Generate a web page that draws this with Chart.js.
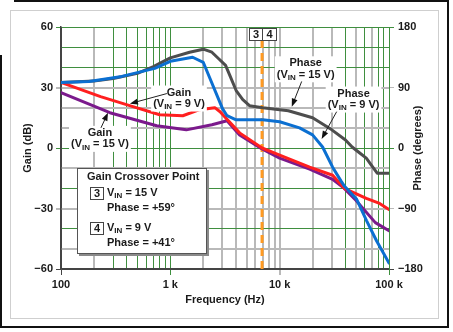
<!DOCTYPE html>
<html>
<head>
<meta charset="utf-8">
<script src="https://cdn.jsdelivr.net/npm/chart.js@4.4.1/dist/chart.umd.min.js"></script>
<style>
  html, body { margin: 0; padding: 0; background: #fff; }
  #bode { display: block; }
</style>
</head>
<body>
<canvas id="bode" width="453" height="332"></canvas>
<script>
// gain curves, dB (left axis)
const gain9Freq  = [100, 230, 455, 800, 1300, 1850, 2550, 2850, 4300, 6900, 10000, 18800, 30500, 39000, 62000, 82000, 100000];
const gain9Db    = [32.5, 25.5, 20.5, 16.5, 16, 19, 20, 18, 7.5, 0, -3.5, -9.5, -13.5, -20, -25, -27.5, -30.5];
const gain15Freq = [100, 280, 750, 1400, 2400, 3300, 4300, 6900, 10000, 18800, 30500, 39000, 50000, 75000, 100000];
const gain15Db   = [27.5, 17.5, 11, 9, 11.5, 13.5, 6.5, -0.5, -5, -10.5, -15.5, -20, -26, -37, -41];

// phase curves, degrees (right axis)
const phase9Freq  = [100, 180, 360, 720, 1000, 1600, 2000, 3000, 3300, 4000, 7000, 10000, 15200, 20000, 24700, 30500, 36700, 39200, 50500, 62300, 76900, 100000];
const phase9Deg   = [97.5, 99, 106.5, 118.5, 129, 135, 127.5, 58.5, 48, 42, 42, 39, 30, 19.5, 1.5, -28.5, -50, -57, -76, -108, -138, -171];
const phase15Freq = [100, 200, 300, 500, 700, 1000, 1500, 2000, 2400, 2800, 3200, 3500, 4000, 4600, 5300, 7000, 12000, 20000, 30000, 40000, 46000, 54000, 62000, 70000, 78000, 100000];
const phase15Deg  = [97.5, 99.5, 103.5, 111, 121, 134, 142.5, 147, 142.5, 132, 123, 108, 85.5, 72, 63, 60, 55.5, 45, 27, 12, 1.5, -7.5, -15, -27, -37.5, -37.5];

// gain crossover marker
const crossFreq = [6900, 6900];
const crossDb   = [-60, 54];

// axis ticks
const xTickValues = [100, 1000, 10000, 100000];
const xTickLabels = ['100', '1 k', '10 k', '100 k'];
const gainTicks   = [60, 30, 0, -30, -60];
const phaseTicks  = [180, 90, 0, -90, -180];

const FONT = '"Liberation Sans", Arial, sans-serif';
const GREEN = '#3f8f3f';
const GRAY = '#b9b9b9';
const DARK = '#444';

const pts = (xs, ys) => xs.map((x, i) => ({ x: x, y: ys[i] }));
const minus = v => v < 0 ? '\u2212' + Math.abs(v) : String(v);
const font = (px) => 'bold ' + px + 'px ' + FONT;

// every 1..9 x decade, for the log grid
const xGrid = [];
for (let d = 100; d < 100000; d *= 10) for (let m = 1; m < 10; m++) xGrid.push(d * m);
xGrid.push(100000);
const xGreen = [300, 400, 500, 600, 700, 800, 900, 1000, 40000, 60000, 80000, 90000, 100000];
const yGreen = [60, 50, 40, 0, -20, -40];

function xLineColor(v) {
    if (v === 100) return DARK;
    return xGreen.includes(v) ? GREEN : GRAY;
}
function yLineColor(v) {
    if (v === -60) return DARK;
    return yGreen.includes(v) ? GREEN : GRAY;
}

// text with a V_IN style subscript
function drawRich(ctx, parts, x, y, align) {
    let w = 0;
    parts.forEach(p => { ctx.font = font(p[1] ? 8 : 11); w += ctx.measureText(p[0]).width; });
    let cx = align === 'center' ? x - w / 2 : x;
    ctx.textAlign = 'left';
    ctx.textBaseline = 'middle';
    parts.forEach(p => {
        ctx.font = font(p[1] ? 8 : 11);
        ctx.fillText(p[0], cx, y + (p[1] ? 3 : 0));
        cx += ctx.measureText(p[0]).width;
    });
    return w;
}

function arrow(ctx, x1, y1, x2, y2) {
    const a = Math.atan2(y2 - y1, x2 - x1);
    ctx.strokeStyle = '#222';
    ctx.lineWidth = 1;
    ctx.beginPath();
    ctx.moveTo(x1, y1);
    ctx.lineTo(x2 - 5 * Math.cos(a), y2 - 5 * Math.sin(a));
    ctx.stroke();
    ctx.fillStyle = '#111';
    ctx.beginPath();
    ctx.moveTo(x2, y2);
    ctx.lineTo(x2 - 8 * Math.cos(a) + 3 * Math.sin(a), y2 - 8 * Math.sin(a) - 3 * Math.cos(a));
    ctx.lineTo(x2 - 8 * Math.cos(a) - 3 * Math.sin(a), y2 - 8 * Math.sin(a) + 3 * Math.cos(a));
    ctx.closePath();
    ctx.fill();
}

// label block: [freq, dB] centre, two lines, and arrow [freq,dB]->[freq,dB]
const labels = [
    { at: [1200, 27.5], l1: 'Gain',  l2: [['(V', 0], ['IN', 1], [' = 9 V)', 0]],  from: [930, 27], to: [427, 22] },
    { at: [227, 7.5],   l1: 'Gain',  l2: [['(V', 0], ['IN', 1], [' = 15 V)', 0]], from: [232, 10], to: [269, 17.5] },
    { at: [17300, 42],  l1: 'Phase', l2: [['(V', 0], ['IN', 1], [' = 15 V)', 0]], from: [15900, 33], to: [12900, 20.5] },
    { at: [47400, 27],  l1: 'Phase', l2: [['(V', 0], ['IN', 1], [' = 9 V)', 0]],  from: [33200, 18], to: [24200, 4.5] }
];

const decorPlugin = {
    id: 'decor',
    beforeDraw(chart) {
        const ctx = chart.ctx;
        ctx.save();
        ctx.fillStyle = '#fff';
        ctx.fillRect(0, 0, chart.width, chart.height);
        // outer black frame, inner grey frame
        ctx.strokeStyle = '#111';
        ctx.lineWidth = 2;
        ctx.beginPath();
        ctx.moveTo(14, 1); ctx.lineTo(448, 1); ctx.lineTo(448, 327); ctx.lineTo(1, 327); ctx.lineTo(1, 55);
        ctx.stroke();
        ctx.strokeStyle = '#cfcfcf';
        ctx.lineWidth = 1;
        ctx.strokeRect(10.5, 10.5, 428, 308);
        ctx.restore();
    },
    afterDraw(chart) {
        const ctx = chart.ctx;
        const xs = chart.scales.x, ys = chart.scales.y;
        const area = chart.chartArea;
        ctx.save();
        ctx.fillStyle = '#1a1a1a';

        // axis titles
        ctx.font = font(11);
        ctx.textAlign = 'center';
        ctx.textBaseline = 'middle';
        ctx.fillText('Frequency (Hz)', (area.left + area.right) / 2, 300);
        ctx.save();
        ctx.translate(28, (area.top + area.bottom) / 2);
        ctx.rotate(-Math.PI / 2);
        ctx.fillText('Gain (dB)', 0, 0);
        ctx.restore();
        ctx.save();
        ctx.translate(418, (area.top + area.bottom) / 2);
        ctx.rotate(-Math.PI / 2);
        ctx.fillText('Phase (degrees)', 0, 0);
        ctx.restore();

        // curve labels
        labels.forEach(lb => {
            const cx = xs.getPixelForValue(lb.at[0]);
            const cy = ys.getPixelForValue(lb.at[1]);
            ctx.font = font(11);
            let w = ctx.measureText(lb.l1).width;
            let w2 = 0;
            lb.l2.forEach(p => { ctx.font = font(p[1] ? 8 : 11); w2 += ctx.measureText(p[0]).width; });
            w = Math.max(w, w2);
            ctx.fillStyle = '#fff';
            ctx.fillRect(cx - w / 2 - 2, cy - 7, w + 4, 26);
            ctx.fillStyle = '#1a1a1a';
            ctx.font = font(11);
            ctx.textAlign = 'center';
            ctx.fillText(lb.l1, cx, cy);
            drawRich(ctx, lb.l2, cx, cy + 11.5, 'center');
            arrow(ctx, xs.getPixelForValue(lb.from[0]), ys.getPixelForValue(lb.from[1]),
                       xs.getPixelForValue(lb.to[0]), ys.getPixelForValue(lb.to[1]));
        });

        // 3|4 marker box above the crossover line
        const mx = Math.round(xs.getPixelForValue(crossFreq[0])) + 0.5;
        ctx.fillStyle = '#fff';
        ctx.fillRect(mx - 13, 28, 27, 12);
        ctx.strokeStyle = DARK;
        ctx.lineWidth = 1;
        ctx.strokeRect(mx - 13, 28.5, 27, 12);
        ctx.beginPath(); ctx.moveTo(mx, 28.5); ctx.lineTo(mx, 40.5); ctx.stroke();
        ctx.fillStyle = '#1a1a1a';
        ctx.font = font(11);
        ctx.textAlign = 'center';
        ctx.fillText('3', mx - 6.5, 35);
        ctx.fillText('4', mx + 7, 35);

        // legend box
        ctx.fillStyle = '#8a8a8a';
        ctx.fillRect(79, 170, 130, 86);
        ctx.fillStyle = '#fff';
        ctx.fillRect(77, 168, 130, 86);
        ctx.strokeStyle = '#555';
        ctx.strokeRect(77.5, 168.5, 129, 85);
        ctx.fillStyle = '#1a1a1a';
        ctx.font = font(11);
        ctx.textAlign = 'left';
        ctx.fillText('Gain Crossover Point', 87, 177);
        ctx.strokeStyle = DARK;
        ctx.strokeRect(90.5, 187.5, 13, 12);
        ctx.strokeRect(90.5, 222.5, 13, 12);
        ctx.textAlign = 'center';
        ctx.fillText('3', 97, 194);
        ctx.fillText('4', 97, 229);
        drawRich(ctx, [['V', 0], ['IN', 1], [' = 15 V', 0]], 107, 193, 'left');
        drawRich(ctx, [['V', 0], ['IN', 1], [' = 9 V', 0]], 107, 228, 'left');
        ctx.font = font(11);
        ctx.textAlign = 'left';
        ctx.fillText('Phase = +59\u00b0', 107, 208);
        ctx.fillText('Phase = +41\u00b0', 107, 243);
        ctx.restore();
    }
};

const tickFont = { family: FONT, size: 11, weight: 'bold' };

new Chart(document.getElementById('bode'), {
    type: 'line',
    data: {
        datasets: [
            { label: 'Phase 9 V', data: pts(phase9Freq, phase9Deg), yAxisID: 'yR', borderColor: '#0b6fd1', borderWidth: 3 },
            { label: 'Gain 9 V', data: pts(gain9Freq, gain9Db), yAxisID: 'y', borderColor: '#ff1f1f', borderWidth: 3 },
            { label: 'Gain 15 V', data: pts(gain15Freq, gain15Db), yAxisID: 'y', borderColor: '#7b1a8c', borderWidth: 3 },
            { label: 'Phase 15 V', data: pts(phase15Freq, phase15Deg), yAxisID: 'yR', borderColor: '#4d4d4d', borderWidth: 3 },
            { label: 'Crossover', data: pts(crossFreq, crossDb), yAxisID: 'y', borderColor: '#ff9a22', borderWidth: 3, borderDash: [8, 5], borderCapStyle: 'butt' }
        ]
    },
    options: {
        responsive: false,
        animation: false,
        events: [],
        layout: { padding: { top: 27, left: 0, right: 0, bottom: 0 } },
        elements: {
            point: { radius: 0 },
            line: { tension: 0, fill: false, borderJoinStyle: 'round', borderCapStyle: 'round' }
        },
        plugins: { legend: { display: false }, tooltip: { enabled: false } },
        scales: {
            x: {
                type: 'logarithmic',
                min: 100,
                max: 100000,
                afterBuildTicks: s => { s.ticks = xGrid.map(v => ({ value: v })); },
                afterFit: s => { s.height = 63; },
                ticks: {
                    autoSkip: false,
                    maxRotation: 0,
                    padding: 3,
                    color: '#1a1a1a',
                    font: tickFont,
                    callback: v => { const i = xTickValues.indexOf(v); return i >= 0 ? xTickLabels[i] : ''; }
                },
                grid: {
                    color: c => xLineColor(c.tick.value),
                    lineWidth: c => xLineColor(c.tick.value) === GRAY ? 2 : 1,
                    tickLength: 6,
                    tickColor: c => xTickValues.includes(c.tick.value) ? xLineColor(c.tick.value) : 'transparent'
                },
                border: { color: DARK, width: 1.5 }
            },
            y: {
                position: 'left',
                min: -60,
                max: 60,
                afterFit: s => { s.width = 61; },
                ticks: {
                    stepSize: 10,
                    padding: 3,
                    color: '#1a1a1a',
                    font: tickFont,
                    callback: v => gainTicks.includes(v) ? minus(v) : ''
                },
                grid: {
                    color: c => yLineColor(c.tick.value),
                    lineWidth: c => yLineColor(c.tick.value) === GRAY ? 2 : 1,
                    tickLength: 5,
                    tickColor: c => gainTicks.includes(c.tick.value) ? yLineColor(c.tick.value) : 'transparent'
                },
                border: { color: DARK, width: 1.5 }
            },
            yR: {
                position: 'right',
                min: -180,
                max: 180,
                afterFit: s => { s.width = 64; },
                ticks: {
                    stepSize: 30,
                    padding: 4,
                    color: '#1a1a1a',
                    font: tickFont,
                    callback: v => phaseTicks.includes(v) ? minus(v) : ''
                },
                grid: {
                    drawOnChartArea: false,
                    tickLength: 5,
                    tickColor: c => phaseTicks.includes(c.tick.value) ? yLineColor(c.tick.value / 3) : 'transparent'
                },
                border: { color: GREEN, width: 1 }
            }
        }
    },
    plugins: [decorPlugin]
});
</script>
</body>
</html>
